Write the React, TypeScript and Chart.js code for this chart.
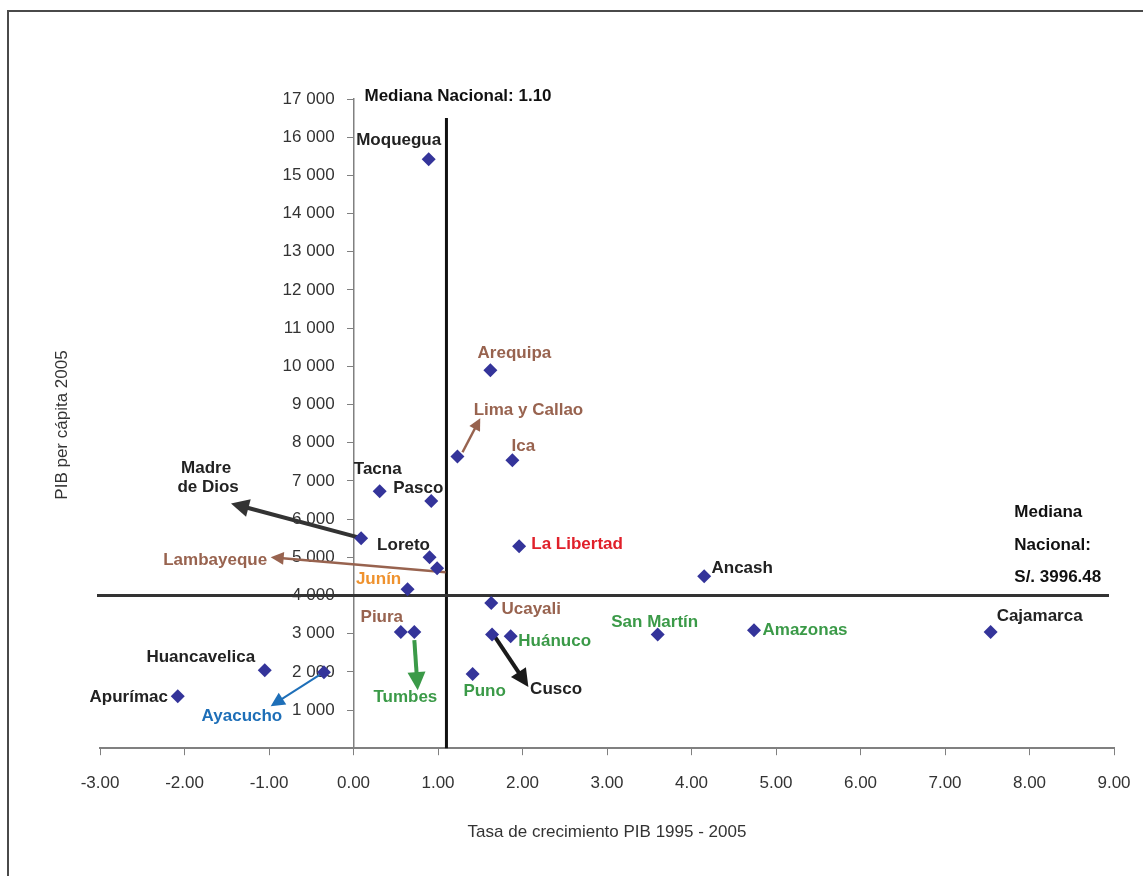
import React, { useEffect, useRef } from "react";
import { Chart, registerables } from "chart.js";

Chart.register(...registerables);

// ---- data ----
const regions = [
  "Moquegua", "Arequipa", "Lima y Callao", "Ica", "Tacna", "Pasco",
  "Madre de Dios", "Loreto", "Lambayeque", "Junín", "La Libertad", "Ancash",
  "Ucayali", "Piura", "Tumbes", "Cusco", "Huánuco", "San Martín",
  "Amazonas", "Cajamarca", "Puno", "Huancavelica", "Apurímac", "Ayacucho",
];
const growthRate = [
  0.89, 1.62, 1.23, 1.88, 0.31, 0.92,
  0.09, 0.90, 0.99, 0.64, 1.96, 4.15,
  1.63, 0.56, 0.72, 1.64, 1.86, 3.60,
  4.74, 7.54, 1.41, -1.05, -2.08, -0.35,
];
const gdpPerCapita = [
  15420, 9895, 7640, 7540, 6730, 6470,
  5500, 5000, 4710, 4160, 5290, 4500,
  3800, 3040, 3040, 2980, 2930, 2980,
  3090, 3040, 1940, 2040, 1360, 1990,
];

// arrows (data coordinates)
const arrowNames = ["Madre de Dios", "Lambayeque", "Lima y Callao", "Tumbes", "Cusco", "Ayacucho"];
const arrowFromX = [0.09, 1.09, 1.29, 0.72, 1.67, -0.35];
const arrowFromY = [5500, 4610, 7750, 2830, 2930, 1990];
const arrowToX = [-1.45, -0.98, 1.50, 0.76, 2.07, -0.98];
const arrowToY = [6410, 5000, 8640, 1520, 1600, 1100];

const medianGrowth = 1.10;
const medianGdp = 3996.48;
const xTicksMin = -3;
const xTicksMax = 9;
const yTicksMin = 0;
const yTicksMax = 17000;

const xTitle = "Tasa de crecimiento PIB 1995 - 2005";
const yTitle = "PIB per cápita 2005";
const medianXLabel = "Mediana Nacional: 1.10";
const medianYLabel = ["Mediana", "Nacional:", "S/. 3996.48"];

// ---- styling / label layout ----
const BLACK = "#222222";
const BROWN = "#98634f";
const ORANGE = "#ef922e";
const RED = "#e0202a";
const GREEN = "#3b9a48";
const BLUE = "#1e6fb8";
const POINT = "#34349a";
const FONT = "'Liberation Sans', Arial, sans-serif";

// [dx, dy, color] label center offsets from point (pixels)
const labelStyle: Record<string, [number, number, string]> = {
  "Moquegua": [-30, -19, BLACK],
  "Arequipa": [24, -17, BROWN],
  "Lima y Callao": [71, -46, BROWN],
  "Ica": [11, -14, BROWN],
  "Tacna": [-2, -22, BLACK],
  "Pasco": [-13, -13, BLACK],
  "Madre de Dios": [-153, -60, BLACK],
  "Loreto": [-26, -12, BLACK],
  "Lambayeque": [-222, -8, BROWN],
  "Junín": [-29, -10, ORANGE],
  "La Libertad": [58, -2, RED],
  "Ancash": [38, -8, BLACK],
  "Ucayali": [40, 6, BROWN],
  "Piura": [-19, -15, BROWN],
  "Tumbes": [-9, 65, GREEN],
  "Cusco": [64, 55, BLACK],
  "Huánuco": [44, 5, GREEN],
  "San Martín": [-3, -12, GREEN],
  "Amazonas": [51, 0, GREEN],
  "Cajamarca": [49, -16, BLACK],
  "Puno": [12, 17, GREEN],
  "Huancavelica": [-64, -13, BLACK],
  "Apurímac": [-49, 1, BLACK],
  "Ayacucho": [-82, 44, BLUE],
};
const arrowStyle: Record<string, [string, number, number]> = {
  "Madre de Dios": ["#333333", 4, 18],
  "Lambayeque": [BROWN, 2.5, 13],
  "Lima y Callao": [BROWN, 2.5, 12],
  "Tumbes": [GREEN, 4, 18],
  "Cusco": ["#1a1a1a", 4, 18],
  "Ayacucho": [BLUE, 2, 14],
};

function drawArrow(ctx: CanvasRenderingContext2D, x1: number, y1: number, x2: number, y2: number, color: string, width: number, head: number) {
  const ang = Math.atan2(y2 - y1, x2 - x1);
  const hw = head * 0.5;
  const bx = x2 - head * Math.cos(ang);
  const by = y2 - head * Math.sin(ang);
  ctx.save();
  ctx.strokeStyle = color;
  ctx.lineWidth = width;
  ctx.lineCap = "butt";
  ctx.beginPath();
  ctx.moveTo(x1, y1);
  ctx.lineTo(bx + 1 * Math.cos(ang), by + 1 * Math.sin(ang));
  ctx.stroke();
  ctx.fillStyle = color;
  ctx.beginPath();
  ctx.moveTo(x2, y2);
  ctx.lineTo(bx + hw * Math.sin(ang), by - hw * Math.cos(ang));
  ctx.lineTo(bx - hw * Math.sin(ang), by + hw * Math.cos(ang));
  ctx.closePath();
  ctx.fill();
  ctx.restore();
}

const overlayPlugin = {
  id: "overlay",
  beforeDatasetsDraw(chart: any) {
    const { ctx, scales } = chart;
    const xs = scales.x;
    const ys = scales.y;
    ctx.save();
    // vertical median
    ctx.strokeStyle = "#111111";
    ctx.lineWidth = 3;
    ctx.beginPath();
    ctx.moveTo(xs.getPixelForValue(medianGrowth), ys.getPixelForValue(16500));
    ctx.lineTo(xs.getPixelForValue(medianGrowth), ys.getPixelForValue(yTicksMin));
    ctx.stroke();
    // horizontal median
    ctx.strokeStyle = "#333333";
    ctx.lineWidth = 3;
    ctx.beginPath();
    ctx.moveTo(xs.getPixelForValue(xTicksMin) - 3, ys.getPixelForValue(medianGdp));
    ctx.lineTo(xs.getPixelForValue(xTicksMax) - 5, ys.getPixelForValue(medianGdp));
    ctx.stroke();
    ctx.restore();
    // arrows
    arrowNames.forEach((n, i) => {
      const [c, w, h] = arrowStyle[n];
      drawArrow(ctx,
        xs.getPixelForValue(arrowFromX[i]), ys.getPixelForValue(arrowFromY[i]),
        xs.getPixelForValue(arrowToX[i]), ys.getPixelForValue(arrowToY[i]),
        c, w, h);
    });
  },
  afterDatasetsDraw(chart: any) {
    const { ctx, scales } = chart;
    const xs = scales.x;
    const ys = scales.y;
    ctx.save();
    ctx.font = `bold 17px ${FONT}`;
    ctx.textAlign = "center";
    ctx.textBaseline = "middle";
    regions.forEach((r, i) => {
      const [dx, dy, col] = labelStyle[r];
      const px = xs.getPixelForValue(growthRate[i]);
      const py = ys.getPixelForValue(gdpPerCapita[i]);
      ctx.fillStyle = col;
      if (r === "Madre de Dios") {
        ctx.fillText("Madre", px + dx - 2, py + dy - 10);
        ctx.fillText("de Dios", px + dx, py + dy + 9);
      } else {
        ctx.fillText(r, px + dx, py + dy);
      }
    });
    // median labels
    ctx.fillStyle = "#111111";
    ctx.textAlign = "left";
    ctx.fillText(medianXLabel, xs.getPixelForValue(0) + 11, ys.getPixelForValue(yTicksMax) - 3);
    const my = ys.getPixelForValue(medianGdp);
    const mx = xs.getPixelForValue(7.82);
    ctx.fillText(medianYLabel[0], mx, my - 83);
    ctx.fillText(medianYLabel[1], mx, my - 50);
    ctx.fillText(medianYLabel[2], mx, my - 18);
    // y title
    ctx.font = `17px ${FONT}`;
    ctx.fillStyle = "#333333";
    ctx.textAlign = "center";
    ctx.translate(62, 425);
    ctx.rotate(-Math.PI / 2);
    ctx.fillText(yTitle, 0, 0);
    ctx.restore();
  },
  afterDraw(chart: any) {
    const { ctx } = chart;
    ctx.save();
    ctx.strokeStyle = "#4a4a4a";
    ctx.lineWidth = 2;
    ctx.strokeRect(8, 11, 1145, 880);
    ctx.restore();
  },
};

export default function App() {
  const ref = useRef<HTMLCanvasElement | null>(null);
  useEffect(() => {
    if (!ref.current) return;
    const chart = new Chart(ref.current, {
      type: "scatter",
      data: {
        datasets: [
          {
            label: "Regiones",
            data: growthRate.map((g, i) => ({ x: g, y: gdpPerCapita[i] })),
            pointStyle: "rectRot",
            pointRadius: 7,
            backgroundColor: POINT,
            borderColor: POINT,
            borderWidth: 0,
          },
        ],
      },
      options: {
        animation: false,
        responsive: false,
        maintainAspectRatio: false,
        layout: { padding: { left: 100, right: 29, top: 99, bottom: 25 } },
        plugins: { legend: { display: false }, tooltip: { enabled: false } },
        scales: {
          x: {
            type: "linear",
            position: "bottom",
            min: xTicksMin,
            max: xTicksMax,
            afterFit: (s: any) => {
              s.paddingRight = 20;
              s.paddingLeft = 20;
            },
            ticks: {
              stepSize: 1,
              callback: (v: any) => Number(v).toFixed(2),
              font: { family: FONT, size: 17 },
              color: "#333333",
              padding: 18,
              maxRotation: 0,
            },
            grid: { drawOnChartArea: false, drawTicks: true, tickLength: 7, color: "#808080" },
            border: { color: "#808080", width: 2 },
            title: {
              display: true,
              text: xTitle,
              font: { family: FONT, size: 17 },
              color: "#333333",
              padding: { top: 11, bottom: 8 },
            },
          },
          y: {
            type: "linear",
            position: { x: 0 } as any,
            min: yTicksMin,
            max: yTicksMax,
            ticks: {
              stepSize: 1000,
              callback: (v: any) => (Number(v) === 0 ? null : `${Math.round(Number(v) / 1000)} 000    `),
              font: { family: FONT, size: 17 },
              color: "#333333",
              padding: 12,
            },
            grid: { drawOnChartArea: false, drawTicks: true, tickLength: 6, color: "#808080" },
            border: { color: "#808080", width: 1.5 },
          },
        },
      },
      plugins: [overlayPlugin],
    });
    return () => chart.destroy();
  }, []);
  return (
    <div style={{ position: "absolute", left: 0, top: 0, width: 1143, height: 876, background: "#ffffff" }}>
      <canvas ref={ref} width={1143} height={876} style={{ display: "block", width: 1143, height: 876 }} />
    </div>
  );
}
